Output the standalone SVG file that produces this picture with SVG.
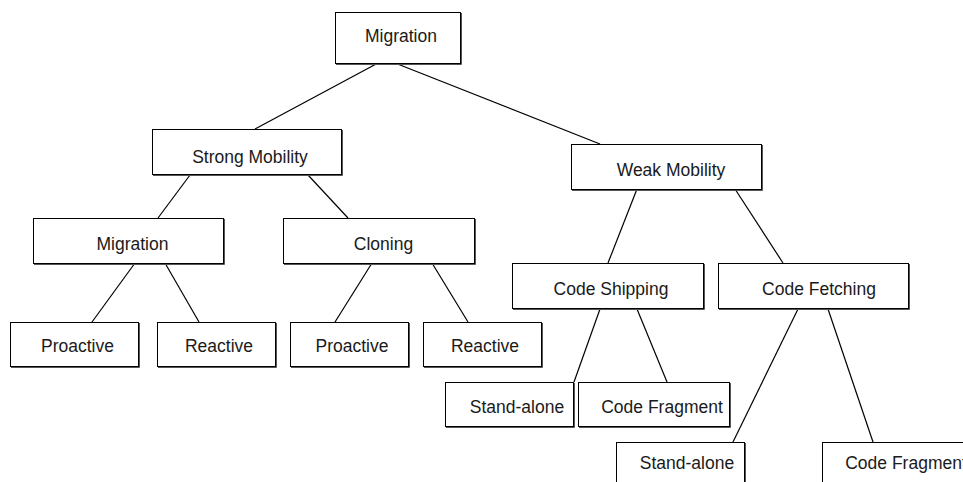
<svg xmlns="http://www.w3.org/2000/svg" width="963" height="482" viewBox="0 0 963 482">
  <style>
    .box { fill: #ffffff; stroke: #000000; stroke-width: 1; }
    .shadow { fill: none; stroke: #555555; stroke-width: 1; }
    .label { font-family: "Liberation Sans", Arial, sans-serif; font-size: 17.5px; fill: #1a1a1a; text-anchor: middle; }
    .edge { stroke: #000000; stroke-width: 1.2; fill: none; }
  </style>
  <rect x="0" y="0" width="963" height="482" fill="#ffffff"/>

  <!-- connectors -->
  <g id="edges">
    <line class="edge" x1="378" y1="63" x2="255" y2="129"/>
    <line class="edge" x1="395" y1="63" x2="600" y2="144"/>
    <line class="edge" x1="190" y1="175" x2="158" y2="218"/>
    <line class="edge" x1="308" y1="175" x2="348" y2="218"/>
    <line class="edge" x1="637" y1="189" x2="608" y2="263"/>
    <line class="edge" x1="735" y1="189" x2="783" y2="263"/>
    <line class="edge" x1="135" y1="263" x2="92" y2="322"/>
    <line class="edge" x1="165" y1="263" x2="199" y2="322"/>
    <line class="edge" x1="372" y1="263" x2="335" y2="322"/>
    <line class="edge" x1="432" y1="263" x2="468" y2="322"/>
    <line class="edge" x1="600" y1="309" x2="574" y2="382"/>
    <line class="edge" x1="637" y1="309" x2="667" y2="382"/>
    <line class="edge" x1="798" y1="309" x2="733" y2="442"/>
    <line class="edge" x1="828" y1="309" x2="873" y2="442"/>
  </g>

  <g id="n-migration-root">
    <rect class="box" x="335.5" y="12.5" width="125" height="51"/>
    <polyline class="shadow" points="461.5,13 461.5,64.5 336,64.5"/>
    <text class="label" x="401" y="42">Migration</text>
  </g>

  <g id="n-strong">
    <rect class="box" x="152.5" y="129.5" width="189" height="45"/>
    <polyline class="shadow" points="342.5,130 342.5,175.5 153,175.5"/>
    <text class="label" x="250" y="163">Strong Mobility</text>
  </g>

  <g id="n-weak">
    <rect class="box" x="571.5" y="144.5" width="190" height="45"/>
    <polyline class="shadow" points="762.5,145 762.5,190.5 572,190.5"/>
    <text class="label" x="671" y="176">Weak Mobility</text>
  </g>

  <g id="n-migration">
    <rect class="box" x="33.5" y="218.5" width="190" height="45"/>
    <polyline class="shadow" points="224.5,219 224.5,264.5 34,264.5"/>
    <text class="label" x="132.5" y="250">Migration</text>
  </g>

  <g id="n-cloning">
    <rect class="box" x="283.5" y="218.5" width="191" height="45"/>
    <polyline class="shadow" points="475.5,219 475.5,264.5 284,264.5"/>
    <text class="label" x="383.5" y="250">Cloning</text>
  </g>

  <g id="n-shipping">
    <rect class="box" x="512.5" y="263.5" width="191" height="45"/>
    <polyline class="shadow" points="704.5,264 704.5,309.5 513,309.5"/>
    <text class="label" x="611" y="295">Code Shipping</text>
  </g>

  <g id="n-fetching">
    <rect class="box" x="718.5" y="263.5" width="190" height="45"/>
    <polyline class="shadow" points="909.5,264 909.5,309.5 719,309.5"/>
    <text class="label" x="819" y="295">Code Fetching</text>
  </g>

  <g id="n-proactive-1">
    <rect class="box" x="10.5" y="322.5" width="128" height="44"/>
    <polyline class="shadow" points="139.5,323 139.5,367.5 11,367.5"/>
    <text class="label" x="77.5" y="352">Proactive</text>
  </g>

  <g id="n-reactive-1">
    <rect class="box" x="157.5" y="322.5" width="118" height="44"/>
    <polyline class="shadow" points="276.5,323 276.5,367.5 158,367.5"/>
    <text class="label" x="219" y="352">Reactive</text>
  </g>

  <g id="n-proactive-2">
    <rect class="box" x="290.5" y="322.5" width="118" height="44"/>
    <polyline class="shadow" points="409.5,323 409.5,367.5 291,367.5"/>
    <text class="label" x="352" y="352">Proactive</text>
  </g>

  <g id="n-reactive-2">
    <rect class="box" x="423.5" y="322.5" width="118" height="44"/>
    <polyline class="shadow" points="542.5,323 542.5,367.5 424,367.5"/>
    <text class="label" x="485" y="352">Reactive</text>
  </g>

  <g id="n-standalone-1">
    <rect class="box" x="445.5" y="382.5" width="128" height="44"/>
    <polyline class="shadow" points="574.5,383 574.5,427.5 446,427.5"/>
    <text class="label" x="517" y="413">Stand-alone</text>
  </g>

  <g id="n-fragment-1">
    <rect class="box" x="578.5" y="382.5" width="151" height="44"/>
    <polyline class="shadow" points="730.5,383 730.5,427.5 579,427.5"/>
    <text class="label" x="662" y="413">Code Fragment</text>
  </g>

  <g id="n-standalone-2">
    <rect class="box" x="616.5" y="442.5" width="128" height="44"/>
    <polyline class="shadow" points="745.5,443 745.5,487.5"/>
    <text class="label" x="687" y="469">Stand-alone</text>
  </g>

  <g id="n-fragment-2">
    <rect class="box" x="822.5" y="442.5" width="151" height="44"/>
    <text class="label" x="906" y="469">Code Fragment</text>
  </g>
</svg>
